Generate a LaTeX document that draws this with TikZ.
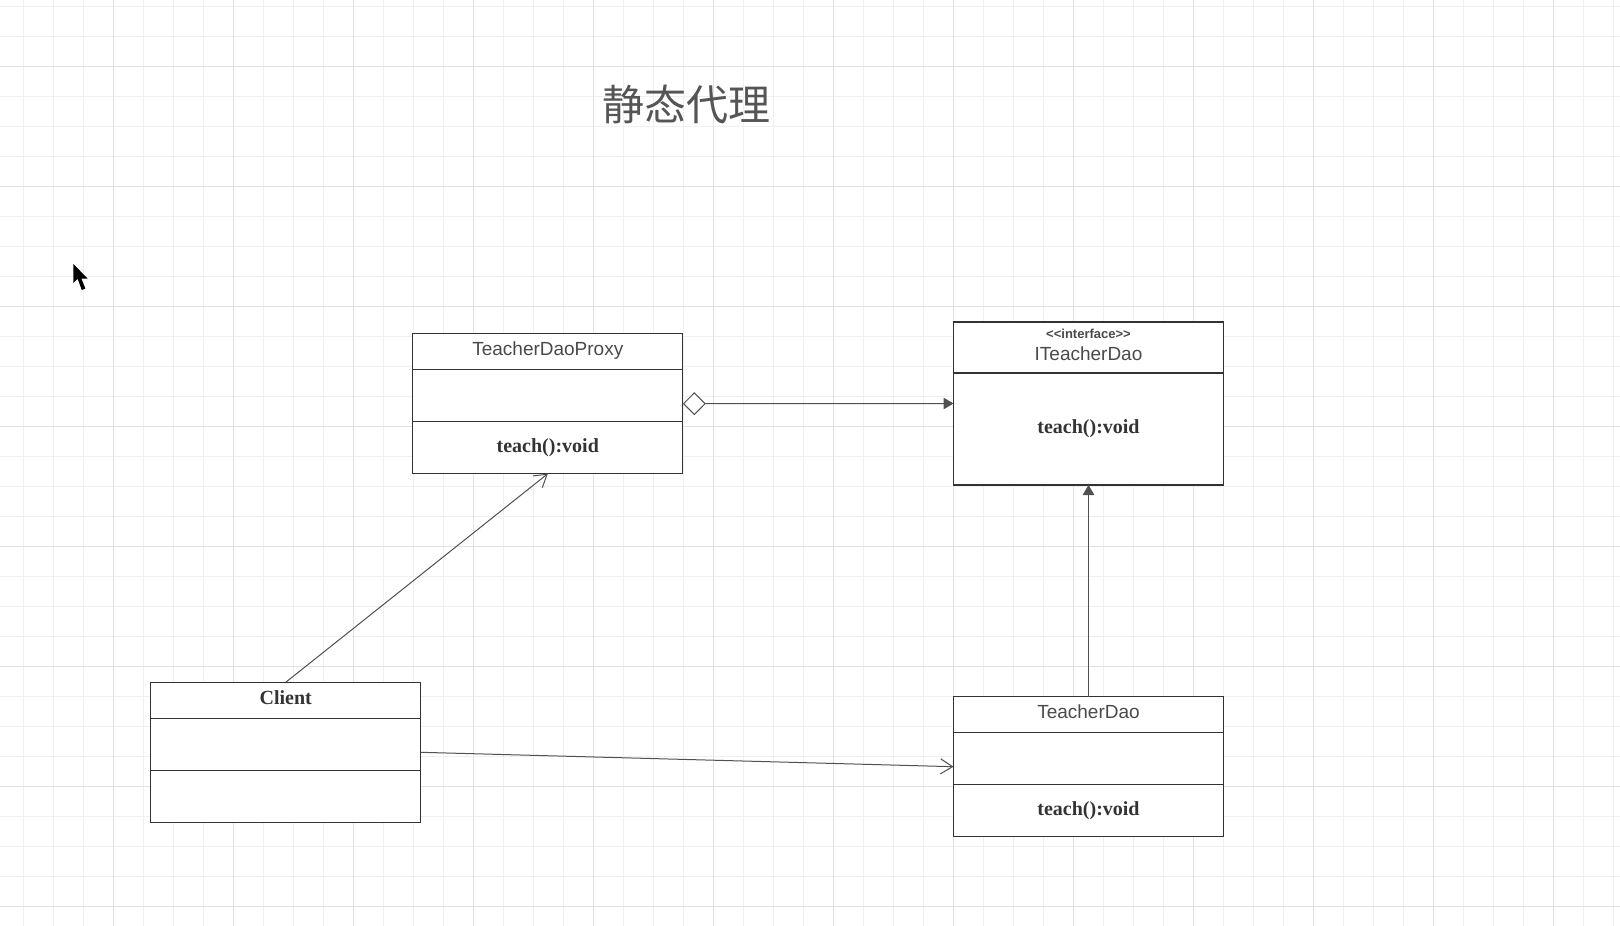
\documentclass[tikz,border=0pt]{standalone}
\usepackage{fontspec}
\setmainfont{Liberation Serif}
\setsansfont{Liberation Sans}
\newfontfamily\cjk{Noto Sans CJK SC}
\usepackage{tikz}
\usetikzlibrary{arrows.meta, positioning}
\definecolor{boxgray}{HTML}{333333}
\definecolor{textgray}{HTML}{4A4A4A}
\definecolor{linegray}{HTML}{505050}
\definecolor{gridminor}{HTML}{F0F0F0}
\definecolor{gridmajor}{HTML}{E2E2E2}
\definecolor{titlegray}{HTML}{555555}

\begin{document}
\begin{tikzpicture}[x=1pt, y=-1pt]
\tikzstyle{classbox}=[rectangle, draw=boxgray, fill=white, line width=1.2, minimum width=270, inner sep=0, outer sep=0]
\tikzstyle{compart}=[rectangle, draw=boxgray, line width=1.2, minimum width=270, minimum height=52, inner sep=0, outer sep=0, anchor=north]
\tikzstyle{classname}=[font=\sffamily\fontsize{19}{22}\selectfont, text=textgray, text height=14pt, text depth=6pt]
\tikzstyle{opname}=[font=\bfseries\fontsize{20}{24}\selectfont, text=boxgray, text height=14pt, text depth=5pt]
\tikzstyle{conn}=[draw=linegray, line width=1]

\useasboundingbox (0,0) rectangle (1620,926);
\fill[white] (0,0) rectangle (1620,926);

% grid
\foreach \x in {23.3,53.3,...,1620} \draw[gridminor, line width=1] (\x,0) -- (\x,926);
\foreach \y in {6.3,36.3,...,926} \draw[gridminor, line width=1] (0,\y) -- (1620,\y);
\foreach \x in {113.3,233.3,...,1620} \draw[gridmajor, line width=1] (\x,0) -- (\x,926);
\foreach \y in {66.3,186.3,...,926} \draw[gridmajor, line width=1] (0,\y) -- (1620,\y);

% title and pointer
\node[font=\cjk\fontsize{42}{42}\selectfont, text=titlegray] (Title) at (686,104) {静态代理};
\fill[black] (73.3,264) -- (73.3,283) -- (77.6,278.7) -- (81.8,290) -- (85.4,288.6) -- (81.3,278.5) -- (87.7,278.5) -- cycle;

% classes
\path (547.8,403.7) node[classbox, minimum height=140](Proxy) {}
      (1088.5,403.5) node[classbox, minimum height=163](Iface) {}
      (285.7,752.3) node[classbox, minimum height=140](Client) {}
      (1088.5,766.7) node[classbox, minimum height=140](Dao) {};

\node[compart, minimum height=36, classname] (ProxyHead) at (Proxy.north) {TeacherDaoProxy};
\node[compart, below=0pt of ProxyHead] (ProxyAttr) {};
\node[compart, below=0pt of ProxyAttr, opname] (ProxyOps) {teach():void};

\node[compart, minimum height=51, classname, align=center, text height=] (IfaceHead) at (Iface.north)
  {{\bfseries\fontsize{13}{15}\selectfont <\kern0pt<interface>\kern0pt>}\\ITeacherDao};
\node[compart, minimum height=112, below=0pt of IfaceHead, opname] (IfaceOps) {teach():void};

\node[compart, minimum height=36, opname] (ClientHead) at (Client.north) {Client};
\node[compart, below=0pt of ClientHead] (ClientAttr) {};
\node[compart, below=0pt of ClientAttr] (ClientOps) {};

\node[compart, minimum height=36, classname] (DaoHead) at (Dao.north) {TeacherDao};
\node[compart, below=0pt of DaoHead] (DaoAttr) {};
\node[compart, below=0pt of DaoAttr, opname] (DaoOps) {teach():void};

% relations
\draw[conn, -{Straight Barb[length=12pt, width=15pt]}] (Client.north) -- (Proxy.south);
\draw[conn, {Diamond[length=23pt, width=23pt, fill=white]}-{Triangle[length=10pt, width=11.5pt]}] (Proxy.east) -- (Iface.west);
\draw[conn, -{Triangle[length=10pt, width=11.5pt]}] (Dao.north) -- (Iface.south);
\draw[conn, -{Straight Barb[length=12pt, width=15pt]}] (Client.east) -- (Dao.west);

\end{tikzpicture}
\end{document}
